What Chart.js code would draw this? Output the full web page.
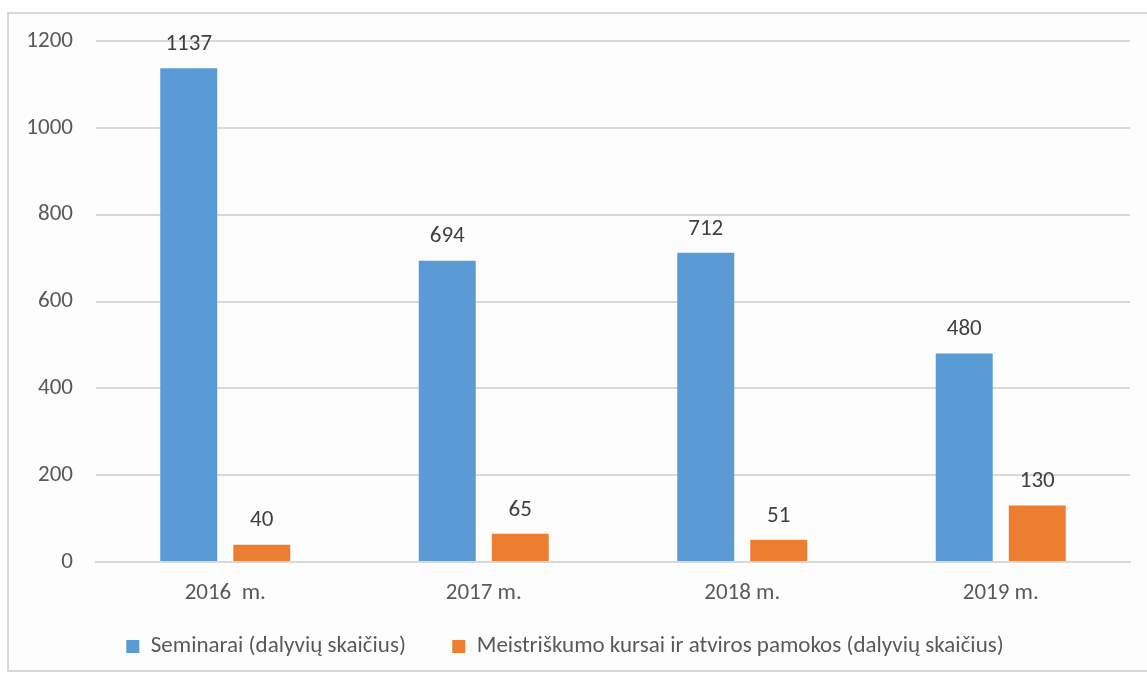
<!DOCTYPE html>
<html>
<head>
<meta charset="utf-8">
<script src="https://cdn.jsdelivr.net/npm/chart.js@4.4.0/dist/chart.umd.min.js"></script>
<style>
  html, body { margin: 0; padding: 0; background: #ffffff; }
  #wrap { position: absolute; left: 0; top: 0; width: 1147px; height: 677px; }
  #frame { position: absolute; left: 7px; top: 12px; width: 1150px; height: 660px;
           border: 2px solid #d9d9d9; background: #fdfdfd; box-sizing: border-box; }
  canvas { position: absolute; left: 0; top: 0; }
</style>
</head>
<body>
<div id="wrap">
  <div id="frame"></div>
  <canvas id="chart" width="1147" height="677"></canvas>
</div>
<script>
// chart data
const years = ['2016  m.', '2017 m.', '2018 m.', '2019 m.'];
const seminarai = [1137, 694, 712, 480];
const meistriskumo = [40, 65, 51, 130];
const seriesNames = ['Seminarai (dalyvių skaičius)', 'Meistriškumo kursai ir atviros pamokos (dalyvių skaičius)'];
const yTicks = [0, 200, 400, 600, 800, 1000, 1200];

const fontFamily = "Calibri, Carlito, Lato, sans-serif";
const fontSize = 23;

// draws the values above each bar
const valueLabels = {
    id: 'valueLabels',
    afterDatasetsDraw(chart) {
        const ctx = chart.ctx;
        ctx.save();
        ctx.font = fontSize + 'px ' + fontFamily;
        ctx.fillStyle = '#404040';
        ctx.textAlign = 'center';
        ctx.textBaseline = 'middle';
        chart.data.datasets.forEach((ds, i) => {
            chart.getDatasetMeta(i).data.forEach((bar, j) => {
                ctx.fillText(ds.data[j], bar.x, bar.y - 24);
            });
        });
        ctx.restore();
    }
};

new Chart(document.getElementById('chart'), {
    type: 'bar',
    data: {
        labels: years,
        datasets: [{
            label: seriesNames[0],
            data: seminarai,
            backgroundColor: '#5b9bd5',
            categoryPercentage: 0.565,
            barPercentage: 0.78
        }, {
            label: seriesNames[1],
            data: meistriskumo,
            backgroundColor: '#ed7d31',
            categoryPercentage: 0.565,
            barPercentage: 0.78
        }]
    },
    options: {
        responsive: false,
        animation: false,
        layout: { padding: { left: 0, right: 17, top: 41, bottom: 9 } },
        scales: {
            x: {
                grid: { display: false },
                border: { color: '#d9d9d9', width: 2 },
                ticks: { color: '#595959', font: { family: fontFamily, size: fontSize }, padding: 9 },
                afterFit(scale) { scale.height = 63; }
            },
            y: {
                min: 0,
                max: 1200,
                afterBuildTicks(scale) { scale.ticks = yTicks.map(v => ({ value: v })); },
                grid: { color: '#d9d9d9', lineWidth: 2, drawTicks: false },
                border: { display: false },
                ticks: {
                    color: '#595959',
                    font: { family: fontFamily, size: fontSize },
                    padding: 23,
                    callback: v => String(v)
                },
                afterFit(scale) { scale.width = 96; }
            }
        },
        plugins: {
            legend: {
                position: 'bottom',
                labels: {
                    boxWidth: 13,
                    boxHeight: 13,
                    color: '#595959',
                    padding: 10,
                    font: { family: fontFamily, size: fontSize },
                    generateLabels(chart) {
                        const items = Chart.defaults.plugins.legend.labels.generateLabels(chart);
                        // extra room after the first entry, as in the original layout
                        items[0].text = items[0].text + '       ';
                        return items;
                    }
                }
            },
            tooltip: { enabled: false }
        }
    },
    plugins: [valueLabels]
});
</script>
</body>
</html>
